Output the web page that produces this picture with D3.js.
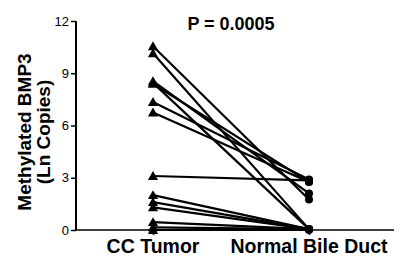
<!DOCTYPE html>
<html><head><meta charset="utf-8">
<script src="https://cdn.jsdelivr.net/npm/d3@7"></script>
<style>body{margin:0;background:#fff}svg{display:block}</style>
</head><body>
<svg id="c" width="400" height="261"></svg>
<script>
const categories = ["CC Tumor", "Normal Bile Duct"];
const tumorValues  = [10.55, 10.15, 8.55, 8.45, 8.4, 7.35, 6.75, 3.1, 2.0, 1.6, 1.3, 0.45, 0.15, 0.0];
const normalValues = [1.75, 0.05, 2.1, 0.05, 2.75, 2.9, 2.75, 2.85, 0.05, 0.05, 0.05, 0.05, 0.05, 0.0];
const yTicks = [0, 3, 6, 9, 12];
const title = "P = 0.0005";
const yLabel = ["Methylated BMP3", "(Ln Copies)"];

const svg = d3.select("#c");
const font = "Liberation Sans, Arial, sans-serif";
const x = d3.scalePoint().domain(categories).range([153, 309]);
const y = d3.scaleLinear().domain([0, 12]).range([230, 21]);

// y axis
const ya = svg.append("g").attr("transform", "translate(76,0)")
  .call(d3.axisLeft(y).tickValues(yTicks).tickSize(5).tickPadding(2).tickFormat(d3.format("d")));
ya.select(".domain").attr("stroke-width", 2).attr("d", `M0,${y(12)}V${y(0)}`);
ya.selectAll(".tick line").attr("stroke-width", 1.5);
ya.selectAll(".tick text").attr("font-family", font).attr("font-size", 13).attr("fill", "#000");

// x axis
const xa = svg.append("g").attr("transform", `translate(0,${y(0)})`)
  .call(d3.axisBottom(x).tickSize(5).tickFormat(""));
xa.select(".domain").attr("stroke-width", 1.6).attr("d", "M76,0H394");
xa.selectAll(".tick line").attr("stroke-width", 1.5);
svg.append("g").selectAll("text").data(categories).join("text")
  .attr("x", d => x(d)).attr("y", 253).attr("text-anchor", "middle")
  .attr("font-family", font).attr("font-weight", "bold").attr("font-size", 19.5)
  .text(d => d);

// lines
const pairs = tumorValues.map((t, i) => [t, normalValues[i]]);
svg.append("g").selectAll("line").data(pairs).join("line")
  .attr("x1", x(categories[0])).attr("y1", d => y(d[0]))
  .attr("x2", x(categories[1])).attr("y2", d => y(d[1]))
  .attr("stroke", "#000").attr("stroke-width", 2.2);

// markers
const tri = d3.symbol().type(d3.symbolTriangle).size(45);
svg.append("g").selectAll("path").data(tumorValues).join("path")
  .attr("d", tri).attr("transform", d => `translate(${x(categories[0])},${y(d) + 1})`)
  .attr("fill", "#000");
svg.append("g").selectAll("circle").data(normalValues).join("circle")
  .attr("cx", x(categories[1])).attr("cy", d => y(d)).attr("r", 4).attr("fill", "#000");

// title
svg.append("text").attr("x", 231).attr("y", 30).attr("text-anchor", "middle")
  .attr("font-family", font).attr("font-weight", "bold").attr("font-size", 18).text(title);

// y label
const yl = svg.append("text").attr("transform", "translate(0,132) rotate(-90)")
  .attr("text-anchor", "middle").attr("font-family", font).attr("font-weight", "bold").attr("font-size", 19);
yl.append("tspan").attr("x", 0).attr("y", 31).text(yLabel[0]);
yl.append("tspan").attr("x", 0).attr("y", 50).text(yLabel[1]);
</script>
</body></html>
